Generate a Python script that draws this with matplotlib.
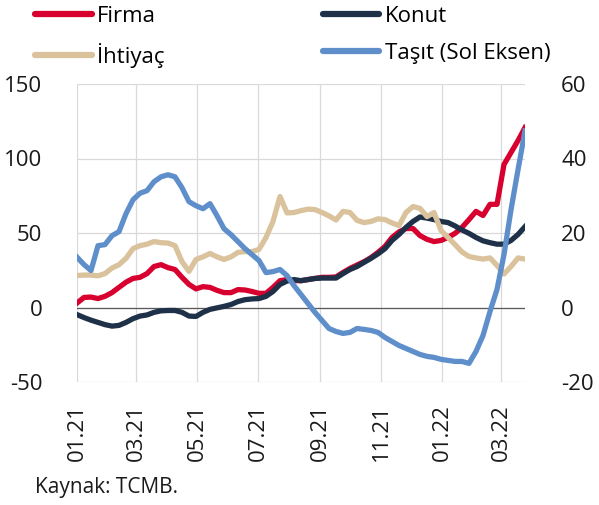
import pandas as pd
import matplotlib
matplotlib.use("Agg")
import matplotlib.pyplot as plt
import matplotlib.dates as mdates

plt.rcParams["font.family"] = ["Open Sans", "DejaVu Sans"]
plt.rcParams["axes.unicode_minus"] = False

# weekly observations, Jan 2021 - Mar 2022
dates = pd.date_range("2021-01-01", periods=65, freq="7D")

# right axis series
firma = [1.2, 2.7, 2.8, 2.4, 3.0, 4.0, 5.4, 6.8, 7.8, 8.1, 9.1, 11.0, 11.5, 10.7, 10.2, 8.1,
         6.2, 5.0, 5.6, 5.4, 4.6, 4.0, 4.0, 4.8, 4.7, 4.3, 3.8, 3.8, 5.4, 7.2, 7.5, 7.2,
         7.2, 7.5, 7.8, 8.1, 8.1, 8.2, 9.4, 10.5, 11.4, 12.3, 13.4, 14.8, 16.4, 18.8, 20.3, 21.2,
         21.2, 19.3, 18.3, 17.7, 18.0, 18.8, 19.9, 21.5, 23.6, 25.8, 24.7, 27.7, 27.7, 38.4, 41.6, 44.8,
         48.3]
konut = [-1.9, -2.7, -3.4, -4.0, -4.6, -5.0, -4.8, -4.0, -3.0, -2.3, -2.0, -1.3, -0.9, -0.8, -0.8, -1.3,
         -2.3, -2.4, -1.3, -0.5, -0.1, 0.3, 0.8, 1.6, 2.1, 2.3, 2.4, 3.0, 4.3, 6.2, 7.1, 7.5,
         7.2, 7.5, 7.8, 7.9, 7.9, 7.9, 9.1, 10.2, 11.0, 12.1, 13.2, 14.4, 15.8, 18.0, 19.6, 21.5,
         23.1, 24.3, 24.0, 23.6, 23.1, 22.8, 21.9, 20.8, 19.9, 18.8, 17.9, 17.4, 17.0, 17.0, 18.0, 19.6,
         21.7]
ihtiyac = [8.6, 8.7, 8.7, 8.5, 9.1, 10.6, 11.5, 13.2, 15.8, 16.6, 17.0, 17.7, 17.4, 17.3, 16.6, 12.3,
           9.7, 12.9, 13.6, 14.5, 13.6, 12.9, 13.6, 14.8, 15.0, 15.0, 15.6, 18.8, 23.1, 29.8, 25.4, 25.5,
           26.0, 26.4, 26.3, 25.5, 24.6, 23.5, 25.8, 25.5, 23.4, 22.8, 23.1, 23.8, 23.6, 22.7, 22.0, 25.5,
           27.1, 26.6, 24.4, 25.5, 20.7, 18.8, 16.9, 14.9, 13.7, 13.3, 13.0, 13.3, 11.3, 9.0, 11.0, 13.3,
           13.0]
# left axis series
tasit = [33.8, 28.8, 24.8, 41.5, 42.2, 48.2, 50.9, 63.0, 72.3, 76.7, 78.4, 84.4, 87.7, 89.1, 87.7, 80.4,
         71.0, 68.3, 66.3, 69.7, 61.6, 52.9, 48.9, 44.2, 39.5, 35.5, 31.5, 23.4, 24.1, 25.5, 21.4, 14.7,
         8.7, 2.7, -3.3, -8.7, -14.1, -16.1, -17.4, -16.7, -14.1, -14.7, -15.4, -16.7, -20.1, -22.8, -25.5, -27.5,
         -29.5, -31.5, -32.8, -33.5, -34.8, -35.5, -36.2, -36.2, -37.5, -29.5, -18.8, -2.7, 12.1, 35.5, 65.6, 92.4,
         118.5]

tick_dates = pd.to_datetime(["2021-01-01", "2021-03-01", "2021-05-01", "2021-07-01",
                             "2021-09-01", "2021-11-01", "2022-01-01", "2022-03-01"])
left_ticks = [-50, 0, 50, 100, 150]
right_ticks = [-20, 0, 20, 40, 60]

W, H = 599, 505
fig = plt.figure(figsize=(W / 100, H / 100), dpi=100)
ax = fig.add_axes([77 / W, 123 / H, 448 / W, 298 / H])

lw = 3.8
l_firma, = ax.plot(dates, firma, color="#D7002E", lw=lw, solid_joinstyle="round", label="Firma")
l_konut, = ax.plot(dates, konut, color="#1E3149", lw=lw, solid_joinstyle="round", label="Konut")
l_iht, = ax.plot(dates, ihtiyac, color="#D9C29C", lw=lw, solid_joinstyle="round", label="İhtiyaç")
ax.axhline(0, color="#595959", lw=0.9, zorder=1.5)
ax.set_ylim(-20, 60)
ax.set_yticks(right_ticks)

ax2 = ax.twinx()
l_tasit, = ax2.plot(dates, tasit, color="#5E8FCB", lw=lw, solid_joinstyle="round",
                    label="Taşıt (Sol Eksen)")
ax2.set_ylim(-50, 150)
ax2.set_yticks(left_ticks)
ax2.yaxis.tick_left()
ax.yaxis.tick_right()

ax.set_xlim(dates[0], dates[-1])
ax.set_xticks(tick_dates)
ax.xaxis.set_major_formatter(mdates.DateFormatter("%m.%y"))

for a in (ax, ax2):
    for s in a.spines.values():
        s.set_visible(False)
    a.tick_params(length=0, labelsize=16, colors="#1a1a1a")
ax.tick_params(axis="y", pad=26)
ax2.tick_params(axis="y", pad=25)
ax.tick_params(axis="x", pad=16, labelrotation=90)
ax.grid(True, color="#D9D9D9", lw=0.9)
ax.set_axisbelow(True)

leg = fig.legend(handles=[l_firma, l_iht, l_konut, l_tasit], ncol=2, loc="upper left",
                 bbox_to_anchor=(35 / W, 1 - 6 / H), frameon=False, fontsize=16,
                 handlelength=2.55, handletextpad=0.25, columnspacing=7.1,
                 labelspacing=0.72, borderpad=0, borderaxespad=0)
for h in leg.legend_handles:
    h.set_linewidth(4.5)
    h.set_solid_capstyle("round")

fig.text(35 / W, 1 - 487 / H, "Kaynak: TCMB.", fontsize=15, va="center", ha="left",
         color="#1a1a1a")

fig.savefig("out.png", dpi=100)
